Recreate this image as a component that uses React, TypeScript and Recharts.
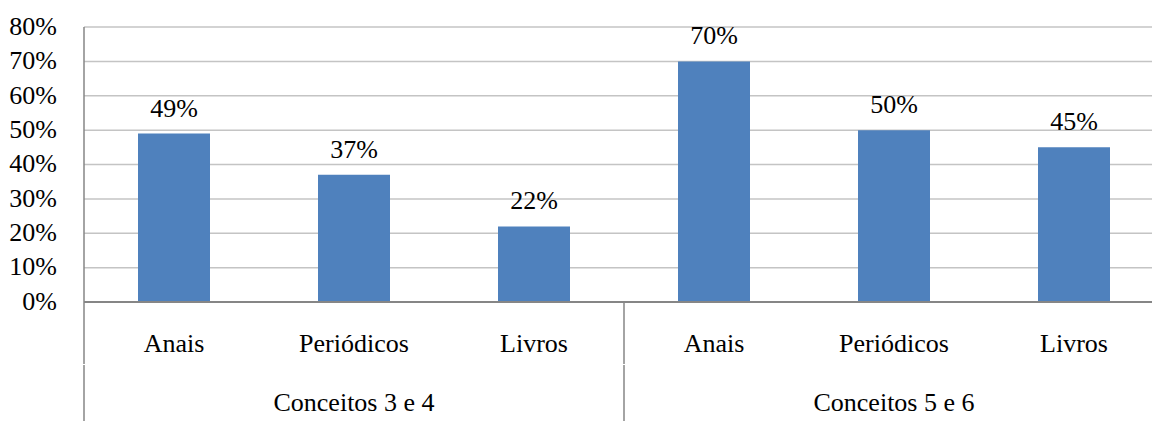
import React from 'react';
import { BarChart, Bar, XAxis, YAxis, CartesianGrid, LabelList } from 'recharts';

// Publication type per bar, its programme group and the share (in %)
const categories = ['Anais', 'Periódicos', 'Livros', 'Anais', 'Periódicos', 'Livros'];
const groups = [
  'Conceitos 3 e 4',
  'Conceitos 3 e 4',
  'Conceitos 3 e 4',
  'Conceitos 5 e 6',
  'Conceitos 5 e 6',
  'Conceitos 5 e 6',
];
const shares = [49, 37, 22, 70, 50, 45];
const yTicks = [0, 10, 20, 30, 40, 50, 60, 70, 80];

const data = categories.map((cat, i) => ({ cat, group: groups[i], value: shares[i] }));

const FONT = 'Liberation Serif';
const FONT_SIZE = 26;
const AXIS_GRAY = '#868686';
const GRID_GRAY = '#c4c4c4';
const BAR_BLUE = '#4f81bd';
const CAT_AXIS_H = 62;
const GROUP_AXIS_H = 66;

const textStyle = { fontFamily: FONT, fontSize: FONT_SIZE, fill: '#000' };

const pct = (v: number) => `${v}%`;

const YTick = (props: any) => {
  const { x, y, payload } = props;
  return (
    <text x={x} y={y} dy="0.3em" textAnchor="end" style={textStyle}>
      {pct(payload.value)}
    </text>
  );
};

const CategoryTick = (props: any) => {
  const { x, y, payload, index } = props;
  const half = payload.offset ?? 0;
  const startsGroup = index === 0 || data[index].group !== data[index - 1].group;
  const endsChart = index === data.length - 1;
  return (
    <g>
      <text x={x} y={y + 50} textAnchor="middle" style={textStyle}>
        {payload.value}
      </text>
      {startsGroup && (
        <line x1={x - half} x2={x - half} y1={y} y2={y + CAT_AXIS_H} stroke={AXIS_GRAY} strokeWidth={1.5} />
      )}
      {endsChart && (
        <line x1={x + half} x2={x + half} y1={y} y2={y + CAT_AXIS_H} stroke={AXIS_GRAY} strokeWidth={1.5} />
      )}
    </g>
  );
};

const GroupTick = (props: any) => {
  const { x, y, payload, index, visibleTicksCount } = props;
  const half = payload.offset ?? 0;
  const last = visibleTicksCount ? index === visibleTicksCount - 1 : false;
  return (
    <g>
      <text x={x} y={y + 47} textAnchor="middle" style={textStyle}>
        {payload.value}
      </text>
      <line x1={x - half} x2={x - half} y1={y + 1} y2={y + GROUP_AXIS_H} stroke={AXIS_GRAY} strokeWidth={1.5} />
      {last && (
        <line x1={x + half} x2={x + half} y1={y + 1} y2={y + GROUP_AXIS_H} stroke={AXIS_GRAY} strokeWidth={1.5} />
      )}
    </g>
  );
};

export default function App() {
  return (
    <div
      style={{
        position: 'fixed',
        left: 0,
        top: 0,
        width: 1152,
        height: 421,
        overflow: 'hidden',
        background: '#fff',
      }}
    >
      <BarChart
        width={1170}
        height={430}
        data={data}
        margin={{ top: 27, right: 6, bottom: 0, left: 0 }}
        barCategoryGap="30%"
      >
        <CartesianGrid horizontal vertical={false} stroke={GRID_GRAY} strokeWidth={1.5} />
        <YAxis
          width={84}
          domain={[0, 80]}
          ticks={yTicks}
          interval={0}
          tickLine={false}
          tickSize={6}
          tickMargin={21}
          axisLine={{ stroke: AXIS_GRAY, strokeWidth: 1.5 }}
          tick={<YTick />}
        />
        <XAxis
          dataKey="cat"
          height={CAT_AXIS_H}
          interval={0}
          tickLine={false}
          tickSize={0}
          tickMargin={0}
          axisLine={{ stroke: AXIS_GRAY, strokeWidth: 2 }}
          tick={<CategoryTick />}
        />
        <XAxis
          xAxisId="group"
          dataKey="group"
          allowDuplicatedCategory={false}
          height={GROUP_AXIS_H}
          interval={0}
          tickLine={false}
          tickSize={0}
          tickMargin={0}
          axisLine={false}
          tick={<GroupTick />}
        />
        <Bar dataKey="value" fill={BAR_BLUE} isAnimationActive={false}>
          <LabelList
            dataKey="value"
            position="top"
            offset={17}
            formatter={(v: any) => pct(v)}
            style={textStyle}
          />
        </Bar>
      </BarChart>
    </div>
  );
}
